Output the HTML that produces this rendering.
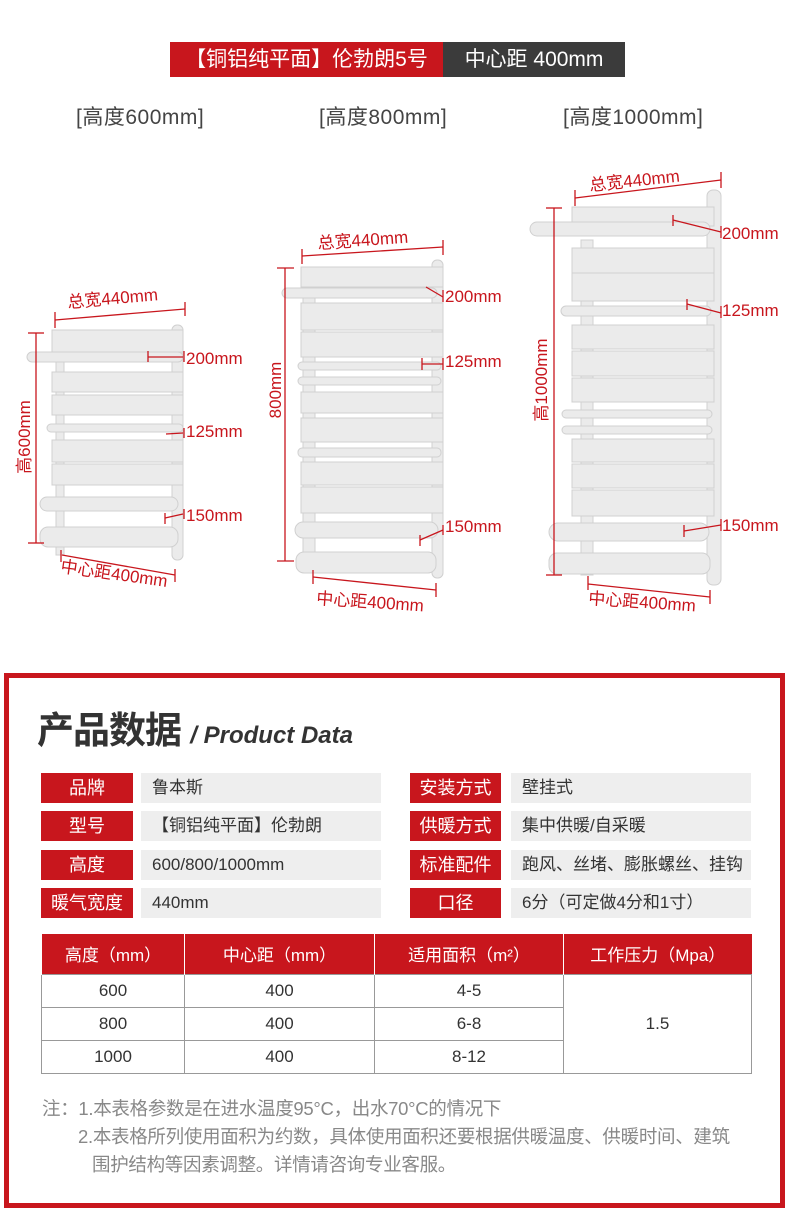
<!DOCTYPE html>
<html><head><meta charset="utf-8"><style>
*{margin:0;padding:0;box-sizing:border-box}
body{width:790px;height:1224px;background:#fff;position:relative;overflow:hidden;font-family:"Liberation Sans","Noto Sans CJK SC",sans-serif}
.a{position:absolute;white-space:nowrap}
.lab{position:absolute;background:#c8161d;color:#fff;font-size:18px;text-align:center;line-height:30px;height:30px}
.val{position:absolute;background:#eeeeee;color:#333;font-size:17px;line-height:30px;height:30px;padding-left:11px}
table{position:absolute;left:41px;top:934px;width:711px;border-collapse:collapse;font-size:17px;color:#333}
th{background:#c8161d;color:#fff;font-weight:normal;height:40px;border-left:1px solid #fff;font-size:17px}
td{text-align:center;border:1px solid #999;height:33px}
</style></head><body>
<div class="a" style="left:170px;top:42px;width:273px;height:35px;background:#c8161d;color:#fff;font-size:21px;line-height:35px;text-align:center">【铜铝纯平面】伦勃朗5号</div>
<div class="a" style="left:443px;top:42px;width:182px;height:35px;background:#3b3b3b;color:#fff;font-size:21px;line-height:35px;text-align:center">中心距 400mm</div>
<div class="a" style="left:76px;top:101px;font-size:21px;color:#444;letter-spacing:0.5px">[高度600mm]</div>
<div class="a" style="left:319px;top:101px;font-size:21px;color:#444;letter-spacing:0.5px">[高度800mm]</div>
<div class="a" style="left:563px;top:101px;font-size:21px;color:#444;letter-spacing:0.5px">[高度1000mm]</div>

<svg class="a" style="left:0;top:0" width="790" height="660" viewBox="0 0 790 660">
<g fill="#ebebeb" stroke="#d0d0d0" stroke-width="1">
<rect x="172" y="325" width="11" height="235" rx="5"/><rect x="56" y="330" width="8" height="225"/>
<rect x="52" y="330" width="131" height="22"/>
<rect x="27" y="352" width="156" height="10" rx="5"/>
<rect x="52" y="372" width="131" height="20"/><rect x="52" y="395" width="131" height="20"/>
<rect x="47" y="424" width="136" height="8" rx="4"/>
<rect x="52" y="440" width="131" height="22"/><rect x="52" y="464" width="131" height="21"/>
<rect x="40" y="497" width="138" height="14" rx="7"/>
<rect x="40" y="527" width="138" height="20" rx="8"/>
<rect x="432" y="260" width="11" height="318" rx="5"/><rect x="303" y="280" width="12" height="290"/>
<rect x="301" y="267" width="142" height="20"/>
<rect x="282" y="288" width="155" height="10" rx="5"/>
<rect x="301" y="303" width="142" height="27"/><rect x="301" y="332" width="142" height="25"/>
<rect x="298" y="362" width="143" height="8" rx="4"/><rect x="298" y="377" width="143" height="8" rx="4"/>
<rect x="301" y="392" width="142" height="21"/><rect x="301" y="418" width="142" height="24"/>
<rect x="298" y="448" width="143" height="9" rx="4"/>
<rect x="301" y="462" width="142" height="23"/><rect x="301" y="487" width="142" height="26"/>
<rect x="295" y="522" width="143" height="16" rx="8"/>
<rect x="296" y="552" width="140" height="21" rx="8"/>
<rect x="707" y="190" width="14" height="395" rx="6"/><rect x="581" y="240" width="12" height="335"/>
<rect x="572" y="207" width="142" height="19"/>
<rect x="530" y="222" width="180" height="14" rx="7"/>
<rect x="572" y="248" width="142" height="28"/><rect x="572" y="273" width="142" height="28"/>
<rect x="561" y="306" width="150" height="10" rx="5"/>
<rect x="572" y="325" width="142" height="24"/><rect x="572" y="351" width="142" height="25"/><rect x="572" y="378" width="142" height="24"/>
<rect x="562" y="410" width="150" height="8" rx="4"/><rect x="562" y="426" width="150" height="8" rx="4"/>
<rect x="572" y="439" width="142" height="23"/><rect x="572" y="464" width="142" height="24"/><rect x="572" y="490" width="142" height="26"/>
<rect x="549" y="523" width="160" height="18" rx="9"/>
<rect x="549" y="553" width="161" height="21" rx="8"/>
</g>
<g stroke="#c8161d" stroke-width="1.3" fill="none">
<line x1="55" y1="320" x2="185" y2="309"/><line x1="55" y1="312" x2="55" y2="328"/><line x1="185" y1="302" x2="185" y2="316"/>
<line x1="36" y1="333" x2="36" y2="543"/><line x1="28" y1="333" x2="44" y2="333"/><line x1="28" y1="543" x2="44" y2="543"/>
<line x1="148" y1="357" x2="183" y2="357"/><line x1="148" y1="351" x2="148" y2="362"/><line x1="184" y1="351" x2="184" y2="362"/>
<line x1="166" y1="434" x2="183" y2="433"/><line x1="184" y1="428" x2="184" y2="438"/>
<line x1="165" y1="518" x2="183" y2="514"/><line x1="184" y1="509" x2="184" y2="519"/><line x1="165" y1="513" x2="165" y2="524"/>
<line x1="62" y1="555" x2="175" y2="575"/><line x1="61" y1="550" x2="61" y2="562"/><line x1="175" y1="569" x2="175" y2="582"/>
<line x1="302" y1="256" x2="443" y2="247"/><line x1="302" y1="249" x2="302" y2="264"/><line x1="443" y1="240" x2="443" y2="255"/>
<line x1="285" y1="268" x2="285" y2="561"/><line x1="277" y1="268" x2="294" y2="268"/><line x1="277" y1="561" x2="294" y2="561"/>
<line x1="426" y1="287" x2="443" y2="297"/><line x1="443" y1="290" x2="443" y2="302"/>
<line x1="422" y1="364" x2="443" y2="364"/><line x1="422" y1="358" x2="422" y2="370"/><line x1="443" y1="358" x2="443" y2="370"/>
<line x1="420" y1="540" x2="443" y2="530"/><line x1="420" y1="535" x2="420" y2="546"/><line x1="443" y1="525" x2="443" y2="535"/>
<line x1="313" y1="577" x2="436" y2="590"/><line x1="313" y1="570" x2="313" y2="584"/><line x1="436" y1="583" x2="436" y2="597"/>
<line x1="575" y1="198" x2="721" y2="180"/><line x1="575" y1="190" x2="575" y2="206"/><line x1="721" y1="172" x2="721" y2="188"/>
<line x1="554" y1="208" x2="554" y2="575"/><line x1="546" y1="208" x2="562" y2="208"/><line x1="546" y1="575" x2="562" y2="575"/>
<line x1="673" y1="220" x2="721" y2="232"/><line x1="673" y1="215" x2="673" y2="226"/><line x1="721" y1="226" x2="721" y2="238"/>
<line x1="687" y1="304" x2="721" y2="313"/><line x1="687" y1="299" x2="687" y2="310"/><line x1="721" y1="306" x2="721" y2="318"/>
<line x1="684" y1="531" x2="721" y2="525"/><line x1="684" y1="525" x2="684" y2="537"/><line x1="721" y1="519" x2="721" y2="531"/>
<line x1="588" y1="584" x2="710" y2="597"/><line x1="588" y1="576" x2="588" y2="590"/><line x1="710" y1="590" x2="710" y2="604"/>
</g>
<g fill="#c8161d" font-family="Liberation Sans, Noto Sans CJK SC, sans-serif" font-size="17">
<text x="68" y="308" transform="rotate(-5 68 308)">总宽440mm</text>
<text x="30" y="437" transform="rotate(-90 30 437)" text-anchor="middle">高600mm</text>
<text x="186" y="364">200mm</text><text x="186" y="437">125mm</text><text x="186" y="521">150mm</text>
<text x="60" y="572" transform="rotate(8 60 572)">中心距400mm</text>
<text x="318" y="249" transform="rotate(-4 318 249)">总宽440mm</text>
<text x="281" y="390" transform="rotate(-90 281 390)" text-anchor="middle">800mm</text>
<text x="445" y="302">200mm</text><text x="445" y="367">125mm</text><text x="445" y="532">150mm</text>
<text x="316" y="604" transform="rotate(4 316 604)">中心距400mm</text>
<text x="590" y="191" transform="rotate(-6 590 191)">总宽440mm</text>
<text x="547" y="380" transform="rotate(-90 547 380)" text-anchor="middle">高1000mm</text>
<text x="722" y="239">200mm</text><text x="722" y="316">125mm</text><text x="722" y="531">150mm</text>
<text x="588" y="604" transform="rotate(4 588 604)">中心距400mm</text>
</g>
</svg>

<div class="a" style="left:4px;top:673px;width:781px;height:535px;border:5px solid #c8161d"></div>
<div class="a" style="left:37px;top:700px;font-size:37px;font-weight:bold;color:#333;letter-spacing:-1px">产品数据 <span style="font-size:24px;font-style:italic;font-weight:bold;letter-spacing:0">/ Product Data</span></div>

<div class="lab" style="left:41px;top:773px;width:92px">品牌</div><div class="val" style="left:141px;top:773px;width:240px">鲁本斯</div>
<div class="lab" style="left:410px;top:773px;width:91px">安装方式</div><div class="val" style="left:511px;top:773px;width:240px">壁挂式</div>
<div class="lab" style="left:41px;top:811px;width:92px">型号</div><div class="val" style="left:141px;top:811px;width:240px">【铜铝纯平面】伦勃朗</div>
<div class="lab" style="left:410px;top:811px;width:91px">供暖方式</div><div class="val" style="left:511px;top:811px;width:240px">集中供暖/自采暖</div>
<div class="lab" style="left:41px;top:850px;width:92px">高度</div><div class="val" style="left:141px;top:850px;width:240px">600/800/1000mm</div>
<div class="lab" style="left:410px;top:850px;width:91px">标准配件</div><div class="val" style="left:511px;top:850px;width:240px">跑风、丝堵、膨胀螺丝、挂钩</div>
<div class="lab" style="left:41px;top:888px;width:92px">暖气宽度</div><div class="val" style="left:141px;top:888px;width:240px">440mm</div>
<div class="lab" style="left:410px;top:888px;width:91px">口径</div><div class="val" style="left:511px;top:888px;width:240px">6分（可定做4分和1寸）</div>

<table>
<tr><th style="width:143px">高度（mm）</th><th style="width:190px">中心距（mm）</th><th style="width:189px">适用面积（m²）</th><th>工作压力（Mpa）</th></tr>
<tr><td>600</td><td>400</td><td>4-5</td><td rowspan="3">1.5</td></tr>
<tr><td>800</td><td>400</td><td>6-8</td></tr>
<tr><td>1000</td><td>400</td><td>8-12</td></tr>
</table>

<div class="a" style="left:42px;top:1095px;font-size:18.5px;color:#888;line-height:28px;letter-spacing:-0.3px">注：1.本表格参数是在进水温度95°C，出水70°C的情况下<br>
<span style="padding-left:36px">2.本表格所列使用面积为约数，具体使用面积还要根据供暖温度、供暖时间、建筑</span><br>
<span style="padding-left:50px">围护结构等因素调整。详情请咨询专业客服。</span></div>
</body></html>
